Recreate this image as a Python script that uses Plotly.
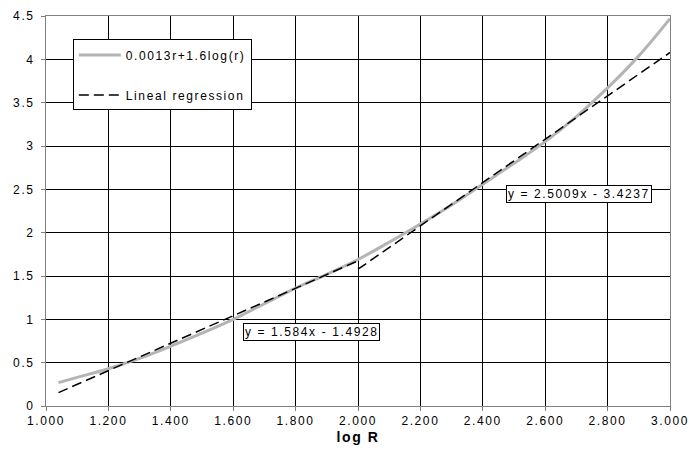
import plotly.graph_objects as go

# Model curve sampled along log R
log_r = [1.04, 1.1, 1.2, 1.3, 1.4, 1.5, 1.6, 1.7, 1.8, 1.9, 2.0,
         2.1, 2.2, 2.3, 2.4, 2.5, 2.6, 2.7, 2.8, 2.9, 3.0]
model_y = [0.27, 0.33, 0.43, 0.55, 0.69, 0.84, 1.00, 1.18, 1.36, 1.52, 1.69,
           1.89, 2.10, 2.32, 2.56, 2.80, 3.05, 3.34, 3.67, 4.04, 4.47]

# Piecewise linear regressions: y = slope * x + intercept
seg1_x = [1.04, 2.0]
seg1_slope, seg1_icpt = 1.584, -1.4928
seg2_x = [2.0, 3.0]
seg2_slope, seg2_icpt = 2.5009, -3.4237

seg1_y = [seg1_slope * x + seg1_icpt for x in seg1_x]
seg2_y = [seg2_slope * x + seg2_icpt for x in seg2_x]

label1 = "y = 1.584x - 1.4928"
label2 = "y = 2.5009x - 3.4237"

font_family = "Liberation Sans, Arial, sans-serif"
dash_style = "10px,5px"

fig = go.Figure()
fig.add_trace(go.Scatter(
    x=log_r, y=model_y, mode="lines", name="0.0013r+1.6log(r)",
    line=dict(color="#b4b4b4", width=3, shape="spline"),
    legendgroup="a",
))
fig.add_trace(go.Scatter(
    x=seg1_x, y=seg1_y, mode="lines", name="Lineal regression",
    line=dict(color="black", width=1.5, dash=dash_style),
    legendgroup="b",
))
fig.add_trace(go.Scatter(
    x=seg2_x, y=seg2_y, mode="lines", name="Lineal regression",
    line=dict(color="black", width=1.5, dash=dash_style),
    legendgroup="b", showlegend=False,
))

fig.add_annotation(
    x=1.85, y=seg1_slope * 1.85 + seg1_icpt - 0.58, text=label1,
    showarrow=False, bgcolor="white", bordercolor="black", borderwidth=1,
    borderpad=1,
)
fig.add_annotation(
    x=2.708, y=2.45, text=label2,
    showarrow=False, bgcolor="white", bordercolor="black", borderwidth=1,
    borderpad=1,
)

axis_common = dict(
    showgrid=True, gridcolor="black", gridwidth=1,
    showline=True, linecolor="#808080", linewidth=1, mirror=True,
    ticks="outside", ticklen=4, tickcolor="#808080",
    zeroline=False, automargin=False, ticklabeloverflow="allow",
)

fig.update_layout(
    width=689, height=456,
    margin=dict(l=46, r=19, t=16, b=50),
    paper_bgcolor="white", plot_bgcolor="white",
    font=dict(family=font_family, color="black", size=12),
    showlegend=True,
    legend=dict(
        x=0.043, y=0.94, xanchor="left", yanchor="top",
        bgcolor="white", bordercolor="black", borderwidth=1,
        tracegroupgap=21, itemwidth=42,
    ),
    xaxis=dict(
        range=[1.0, 3.0], dtick=0.2, tick0=1.0, tickformat=".3f",
        title=dict(text="<b>log R</b>", standoff=4),
        **axis_common,
    ),
    yaxis=dict(
        range=[0, 4.5], dtick=0.5, tick0=0, ticklabelstandoff=4,
        **axis_common,
    ),
)

# Widen the tracking of all chart text, then redraw so that legend and
# annotation boxes are measured with the wider text.
spacing_js = """
var gd = document.getElementById('{plot_id}');
var st = document.createElement('style');
st.textContent = 'svg text { letter-spacing: 1.6px; }';
document.head.appendChild(st);
Plotly.relayout(gd, {'font.size': 12.001});
"""

fig.write_html("out.html", post_script=spacing_js)
